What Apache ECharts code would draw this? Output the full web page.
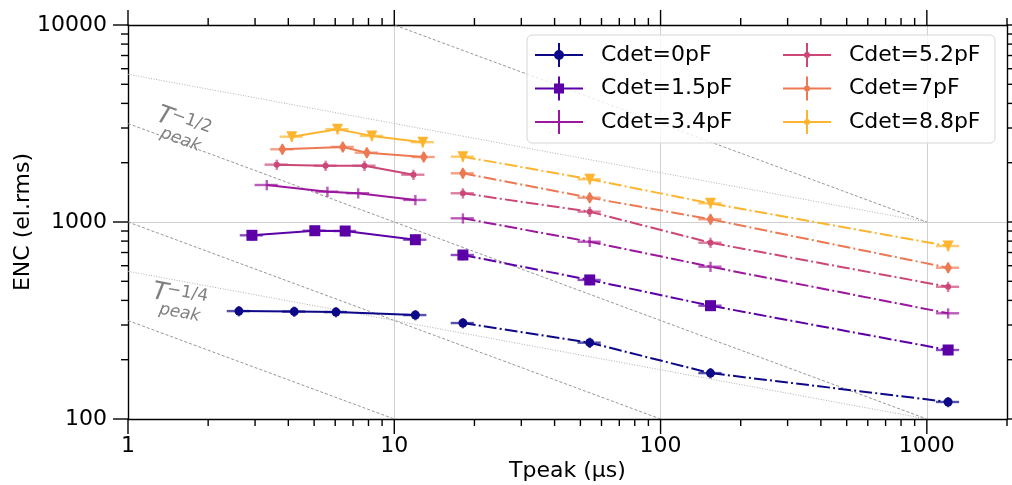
<!DOCTYPE html>
<html><head><meta charset="utf-8">
<script src="https://cdn.jsdelivr.net/npm/echarts@6/dist/echarts.min.js"></script>
<style>html,body{margin:0;padding:0;background:#fff}#c{width:1012px;height:485px}</style>
</head><body><div id="c"></div>
<script>
// ---------------- data ----------------
const seriesNames = ['Cdet=0pF', 'Cdet=1.5pF', 'Cdet=3.4pF', 'Cdet=5.2pF', 'Cdet=7pF', 'Cdet=8.8pF'];
const colors = ['#0d0887', '#5c01a6', '#9c179e', '#cc4778', '#ed7953', '#fdb42f'];
// first measurement set (solid lines), Tpeak in µs
const shortTpeak = [
  [2.61, 4.21, 6.04, 12.0],
  [2.92, 5.03, 6.54, 12.0],
  [3.32, 5.61, 7.32, 12.0],
  [3.62, 5.52, 7.73, 11.8],
  [3.80, 6.41, 7.89, 12.9],
  [4.12, 6.12, 8.24, 12.8]
];
const shortEnc = [
  [353, 351, 349, 337],
  [856, 903, 900, 813],
  [1541, 1426, 1400, 1294],
  [1955, 1931, 1931, 1738],
  [2339, 2404, 2249, 2138],
  [2711, 2958, 2736, 2542]
];
// second measurement set (dash-dot lines)
const longTpeak = [18.1, 54.2, 154, 1202];
const longEnc = [
  [307, 244, 171, 122],
  [680, 508, 376, 224],
  [1044, 794, 593, 344],
  [1399, 1128, 785, 469],
  [1767, 1328, 1032, 586],
  [2146, 1648, 1244, 755]
];
const xErrRel = 0.10;   // relative Tpeak uncertainty
const yErrRel = 0.06;   // relative ENC uncertainty
// reference slope lines (endpoints)
const slopeHalfLines = [
  [[1, 31623], [1000, 1000]],
  [[1, 3162], [1000, 100]],
  [[1, 1000], [100, 100]],
  [[1, 316], [10, 100]]
];
const slopeQuarterLines = [
  [[1, 5623], [1000, 1000]],
  [[1, 562], [1000, 100]]
];
const annoHalfAt = [1.24, 3080];
const annoQuarterAt = [1.21, 384];
// axis ticks
const xMajorTicks = [1, 10, 100, 1000];
const xMinorTicks = [2, 3, 4, 5, 6, 7, 8, 9, 20, 30, 40, 50, 60, 70, 80, 90, 200, 300, 400, 500, 600, 700, 800, 900, 2000];
const yMajorTicks = [100, 1000, 10000];
const yMinorTicks = [200, 300, 400, 500, 600, 700, 800, 900, 2000, 3000, 4000, 5000, 6000, 7000, 8000, 9000];
const xMin = 1, xMax = 2000, yMin = 100, yMax = 10000;

// ---------------- style ----------------
const FONT = '"DejaVu Sans", Verdana, sans-serif';
const markerSymbols = ['circle', 'rect', 'none', 'circle', 'diamond', 'triangle'];
const markerSizes = [9, 11, 0, 6, [8, 12], 11];
const markerRotate = [0, 0, 0, 0, 0, 180];
const legendIcons = [
  'path://M0 11H48V13H0Z M23 0H25V24H23Z M19 12A5 5 0 1 1 29 12A5 5 0 1 1 19 12Z',
  'path://M0 11H48V13H0Z M23 0H25V24H23Z M19 7H29V17H19Z',
  'path://M0 11H48V13H0Z M23 0H25V24H23Z',
  'path://M0 11H48V13H0Z M23 0H25V24H23Z M21 12A3 3 0 1 1 27 12A3 3 0 1 1 21 12Z',
  'path://M0 11H48V13H0Z M23 0H25V24H23Z M21 12A3 3 0 1 1 27 12A3 3 0 1 1 21 12Z',
  'path://M0 11H48V13H0Z M23 0H25V24H23Z M21 12A3 3 0 1 1 27 12A3 3 0 1 1 21 12Z'
];

const chart = echarts.init(document.getElementById('c'), null, {renderer: 'canvas'});

function errRender(params, api) {
  const x = api.value(0), y = api.value(1);
  const a = api.coord([x * (1 - xErrRel), y]);
  const b = api.coord([x * (1 + xErrRel), y]);
  const c = api.coord([x, y * (1 + yErrRel)]);
  const d = api.coord([x, y * (1 - yErrRel)]);
  const style = {stroke: api.visual('color'), lineWidth: 2.4, opacity: 0.7};
  return {type: 'group', children: [
    {type: 'line', shape: {x1: a[0], y1: a[1], x2: b[0], y2: b[1]}, style},
    {type: 'line', shape: {x1: c[0], y1: c[1], x2: d[0], y2: d[1]}, style}
  ]};
}
function xTickRender(params, api) {
  const cs = params.coordSys;
  const px = api.coord([api.value(0), yMin])[0];
  const len = api.value(2);
  const b = cs.y + cs.height, t = cs.y;
  const st = {stroke: '#000', lineWidth: 1.4};
  return {type: 'group', children: [
    {type: 'line', shape: {x1: px, y1: b, x2: px, y2: b + len}, style: st},
    {type: 'line', shape: {x1: px, y1: t, x2: px, y2: t - len}, style: st}
  ]};
}
function yTickRender(params, api) {
  const cs = params.coordSys;
  const py = api.coord([xMin, api.value(1)])[1];
  const len = api.value(2);
  const l = cs.x, r = cs.x + cs.width;
  const st = {stroke: '#000', lineWidth: 1.4};
  return {type: 'group', children: [
    {type: 'line', shape: {x1: l, y1: py, x2: l - len, y2: py}, style: st},
    {type: 'line', shape: {x1: r, y1: py, x2: r + len, y2: py}, style: st}
  ]};
}

const series = [];
// data lines
seriesNames.forEach((name, i) => {
  const common = {
    name, type: 'line', symbol: markerSymbols[i], symbolSize: markerSizes[i], symbolRotate: markerRotate[i],
    itemStyle: {color: colors[i]}, z: 5, animation: false, silent: true
  };
  series.push(Object.assign({}, common, {
    data: shortTpeak[i].map((x, k) => [x, shortEnc[i][k]]),
    lineStyle: {color: colors[i], width: 2}
  }));
  series.push(Object.assign({}, common, {
    data: longTpeak.map((x, k) => [x, longEnc[i][k]]),
    lineStyle: {color: colors[i], width: 2, type: [12.8, 3.2, 2, 3.2]}
  }));
});
// error bars
seriesNames.forEach((name, i) => {
  const pts = shortTpeak[i].map((x, k) => [x, shortEnc[i][k]])
    .concat(longTpeak.map((x, k) => [x, longEnc[i][k]]));
  series.push({
    name: name + ' err', type: 'custom', renderItem: errRender, data: pts,
    encode: {x: 0, y: 1}, itemStyle: {color: colors[i]}, z: 4, animation: false, silent: true
  });
});
// reference lines
slopeHalfLines.forEach(seg => series.push({
  type: 'line', data: seg, symbol: 'none', silent: true, animation: false, z: 1,
  lineStyle: {color: '#8a8a8a', width: 0.9, type: [3, 2]}
}));
slopeQuarterLines.forEach(seg => series.push({
  type: 'line', data: seg, symbol: 'none', silent: true, animation: false, z: 1,
  lineStyle: {color: '#a8a8a8', width: 0.9, type: [1, 1.6]}
}));
// ticks
series.push({
  type: 'custom', renderItem: xTickRender, encode: {x: 0, y: 1}, clip: false, silent: true, animation: false, z: 6,
  data: xMajorTicks.map(v => [v, yMin, 15]).concat(xMinorTicks.map(v => [v, yMin, 7]))
});
series.push({
  type: 'custom', renderItem: yTickRender, encode: {x: 0, y: 1}, clip: false, silent: true, animation: false, z: 6,
  data: yMajorTicks.map(v => [xMin, v, 15]).concat(yMinorTicks.map(v => [xMin, v, 7]))
});

const axisLineStyle = {show: true, lineStyle: {color: '#000', width: 1.4}};
const splitLineStyle = {show: true, lineStyle: {color: '#d0d0d0', width: 1}};
const option = {
  animation: false,
  backgroundColor: '#fff',
  grid: {left: 128, right: 5, top: 25, bottom: 66, containLabel: false, outerBoundsMode: 'none'},
  xAxis: [{
    type: 'log', logBase: 10, min: xMin, max: xMax, position: 'bottom',
    axisLine: axisLineStyle, axisTick: {show: false}, splitLine: splitLineStyle,
    axisLabel: {fontSize: 22, color: '#000', fontFamily: FONT, margin: 16, showMaxLabel: false,
      formatter: v => (xMajorTicks.indexOf(Math.round(v)) >= 0 ? String(Math.round(v)) : '')},
    name: 'Tpeak (µs)', nameLocation: 'middle', nameGap: 41, nameMoveOverlap: false,
    nameTextStyle: {fontSize: 22, color: '#000', fontFamily: FONT}
  }, {
    type: 'log', logBase: 10, min: xMin, max: xMax, position: 'top',
    axisLine: axisLineStyle, axisTick: {show: false}, axisLabel: {show: false}, splitLine: {show: false}
  }],
  yAxis: [{
    type: 'log', logBase: 10, min: yMin, max: yMax, position: 'left',
    axisLine: axisLineStyle, axisTick: {show: false}, splitLine: splitLineStyle,
    axisLabel: {fontSize: 22, color: '#000', fontFamily: FONT, margin: 21,
      formatter: v => String(Math.round(v))},
    name: 'ENC (el.rms)', nameLocation: 'middle', nameGap: 94, nameRotate: 90, nameMoveOverlap: false,
    nameTextStyle: {fontSize: 22, color: '#000', fontFamily: FONT}
  }, {
    type: 'log', logBase: 10, min: yMin, max: yMax, position: 'right',
    axisLine: axisLineStyle, axisTick: {show: false}, axisLabel: {show: false}, splitLine: {show: false}
  }],
  legend: [0, 1].map(col => ({
    orient: 'vertical', left: col === 0 ? 535 : 783, top: 43, padding: 0,
    itemWidth: 48, itemHeight: 24, itemGap: 9.5, z: 10,
    selectedMode: false,
    itemStyle: {borderWidth: 0},
    textStyle: {fontSize: 22, color: '#000', fontFamily: FONT, lineHeight: 24, padding: [0, 0, 0, 13]},
    data: seriesNames.slice(col * 3, col * 3 + 3).map((n, k) => ({name: n, icon: legendIcons[col * 3 + k]}))
  })),
  series
};
chart.setOption(option);

function annotation(id, at, slopeEnds, supText) {
  const p = chart.convertToPixel({xAxisIndex: 0, yAxisIndex: 0}, at);
  const a = chart.convertToPixel({xAxisIndex: 0, yAxisIndex: 0}, slopeEnds[0]);
  const b = chart.convertToPixel({xAxisIndex: 0, yAxisIndex: 0}, slopeEnds[1]);
  const ang = Math.atan2(b[1] - a[1], b[0] - a[0]);
  const col = '#808080';
  return {
    id, type: 'group', x: p[0], y: p[1], rotation: -ang, z: 8, silent: true,
    children: [
      {type: 'text', x: 0, y: 0, style: {text: 'T', font: 'italic 25px ' + FONT, fill: col, verticalAlign: 'bottom'}},
      {type: 'text', x: 14, y: -9, style: {text: supText, font: '17px ' + FONT, fill: col, verticalAlign: 'bottom'}},
      {type: 'text', x: 10, y: 12, style: {text: 'peak', font: 'italic 17px ' + FONT, fill: col, verticalAlign: 'bottom'}}
    ]
  };
}
chart.setOption({
  graphic: [
    {id: 'legendBox', type: 'rect', shape: {x: 527, y: 35, width: 468, height: 108, r: 5}, z: 9, silent: true,
      style: {fill: 'rgba(255,255,255,0.8)', stroke: '#d6d6d6', lineWidth: 1}},
    annotation('annoHalf', annoHalfAt, slopeHalfLines[1], '\u22121/2'),
    annotation('annoQuarter', annoQuarterAt, slopeQuarterLines[1], '\u22121/4')
  ]
});
</script>
</body></html>
